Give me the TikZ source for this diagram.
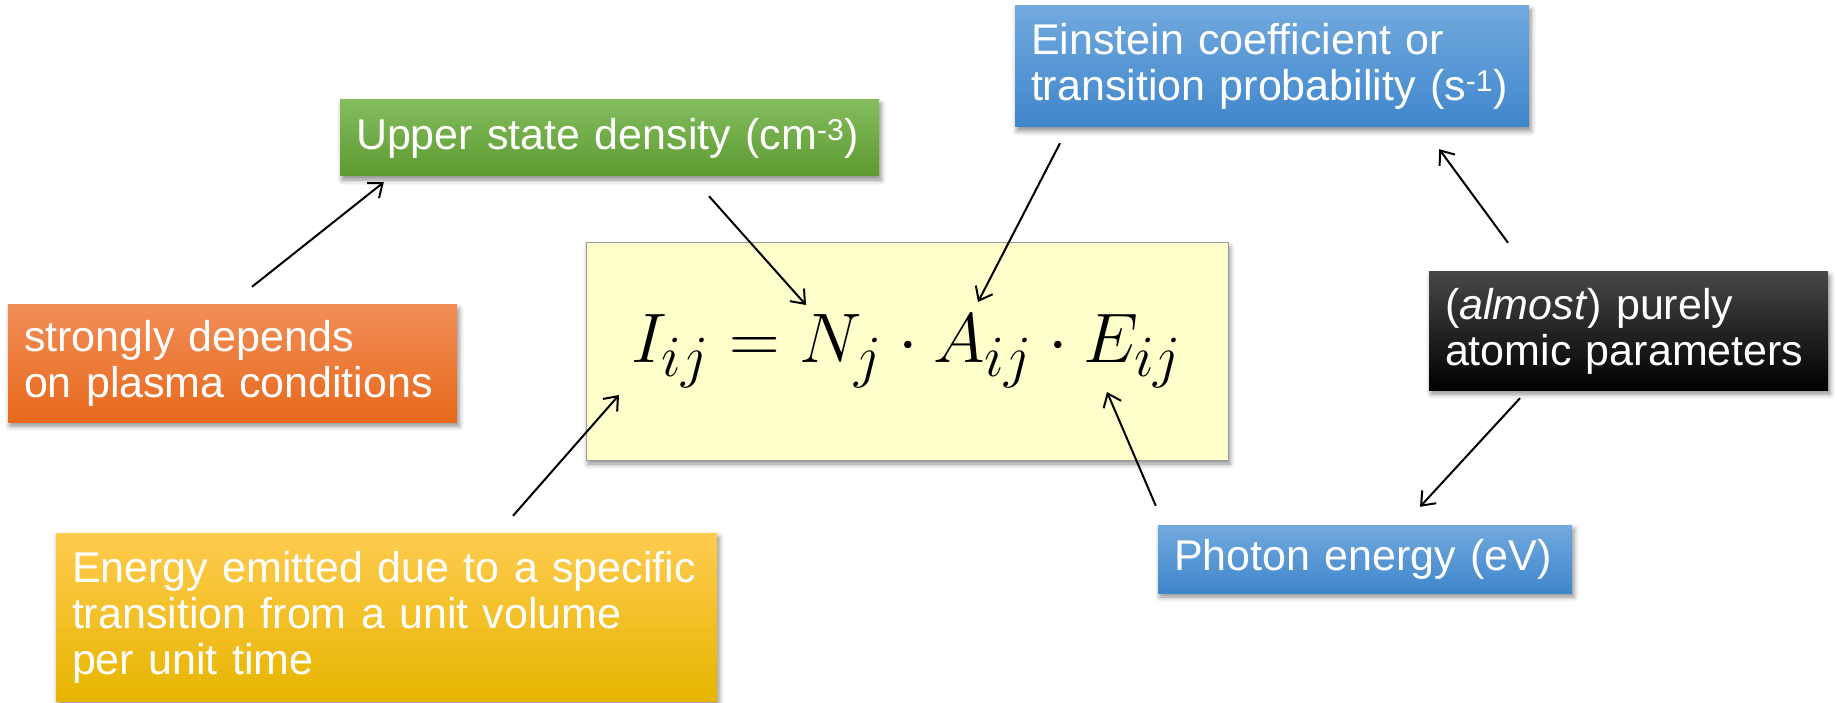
\documentclass[tikz,border=0pt]{standalone}
\usepackage{fontspec}
\setmainfont{Liberation Sans}
\usetikzlibrary{arrows.meta,shadows.blur}
\definecolor{grtop}{HTML}{84BC5E}
\definecolor{grbot}{HTML}{5C9B30}
\definecolor{bltop}{HTML}{72A9DE}
\definecolor{blbot}{HTML}{3F86CC}
\definecolor{ortop}{HTML}{F28E58}
\definecolor{orbot}{HTML}{E7691B}
\definecolor{yetop}{HTML}{FFCB50}
\definecolor{yemid}{HTML}{FFC000}
\definecolor{yebot}{HTML}{E7B500}
\definecolor{eqfill}{HTML}{FFFFCC}

\begin{document}
\begin{tikzpicture}[
  x=1pt, y=-1pt,
  box/.style={inner xsep=16pt, inner ysep=0pt, align=left, text=white,
              font=\fontsize{43}{46}\selectfont,
              blur shadow={shadow xshift=2pt, shadow yshift=-4pt,
                           shadow blur radius=5pt, shadow opacity=45}},
  arr/.style={-{Straight Barb[length=12pt, width=19pt]}, line width=2pt}
]
  \useasboundingbox (0,0) rectangle (1837,703);

  % Equation
  \node[draw=black!40, line width=1pt, fill=eqfill, minimum width=642pt,
        minimum height=217pt,
        blur shadow={shadow xshift=2pt, shadow yshift=-4pt,
                     shadow blur radius=5pt, shadow opacity=45}]
    (eq) at (907,351.5) {\scalebox{2.82}{\Huge$I_{ij} = N_j \cdot A_{ij} \cdot E_{ij}$}};

  % Labels
  \node[box, top color=grtop, bottom color=grbot, minimum width=539pt,
        minimum height=76pt, text width=507pt]
    (upper) at (609.5,138) {Upper state density (cm\textsuperscript{-3})};
  \node[box, top color=bltop, bottom color=blbot, minimum width=514pt,
        minimum height=121pt, text width=482pt]
    (einst) at (1272,66.5) {Einstein coefficient or\\transition probability (s\textsuperscript{-1})};
  \node[box, top color=ortop, bottom color=orbot, minimum width=449pt,
        minimum height=117pt, text width=417pt]
    (plasma) at (232.5,363.5) {strongly depends\\on plasma conditions};
  \node[box, top color=black!72, bottom color=black, minimum width=399pt,
        minimum height=118pt, text width=367pt]
    (atomic) at (1628.5,331) {(\textit{almost}) purely\\atomic parameters};
  \node[box, top color=yetop, middle color=yemid, bottom color=yebot,
        minimum width=661pt, minimum height=168pt, text width=629pt]
    (emit) at (386.5,617) {Energy emitted due to a specific\\transition from a unit volume\\per unit time};
  \node[box, top color=bltop, bottom color=blbot, minimum width=414pt,
        minimum height=68pt, text width=382pt]
    (photon) at (1365,559) {Photon energy (eV)};

  % Terms of the equation
  \coordinate (tN) at (806,305);
  \coordinate (tA) at (978,302);
  \coordinate (tE) at (1107,392);
  \coordinate (tI) at (619,395);

  % Arrows
  \draw[arr] ([shift={(19.5pt,18pt)}]plasma.north) -- ([shift={(44pt,-6pt)}]upper.south west);
  \draw[arr] ([shift={(99.5pt,-20pt)}]upper.south) -- (tN);
  \draw[arr] ([shift={(-212pt,-16pt)}]einst.south) -- (tA);
  \draw[arr] ([shift={(-120.5pt,29pt)}]atomic.north) -- ([shift={(-90pt,-22pt)}]einst.south east);
  \draw[arr] ([shift={(-108.5pt,-8pt)}]atomic.south) -- ([shift={(55pt,18pt)}]photon.north);
  \draw[arr] ([shift={(-2pt,19pt)}]photon.north west) -- (tE);
  \draw[arr] ([shift={(126.5pt,17pt)}]emit.north) -- (tI);
\end{tikzpicture}
\end{document}
